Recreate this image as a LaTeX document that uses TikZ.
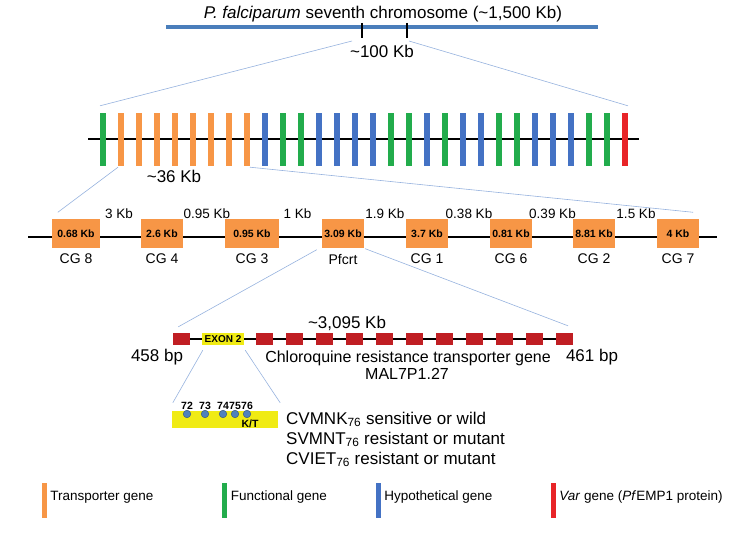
\documentclass[tikz,border=0pt]{standalone}
\usepackage{fontspec}
\setmainfont{Liberation Sans}
\usetikzlibrary{calc}
\usetikzlibrary{positioning}
\definecolor{chr}{RGB}{74,126,187}
\definecolor{tg}{RGB}{247,150,70}
\definecolor{fg}{RGB}{34,172,76}
\definecolor{hg}{RGB}{68,114,196}
\definecolor{vg}{RGB}{232,36,40}
\definecolor{exy}{RGB}{240,235,20}
\definecolor{exr}{RGB}{192,30,35}
\definecolor{zlc}{RGB}{150,178,222}
\definecolor{dotc}{RGB}{79,129,189}

\begin{document}
\begin{tikzpicture} [
    x=1pt, y=-1pt,
    big/.style={font=\fontsize{16}{19}\selectfont, inner sep=1pt},
    huge/.style={font=\fontsize{17}{20}\selectfont, inner sep=1pt},
    kb/.style={font=\fontsize{13.5}{16}\selectfont, inner sep=1pt},
    gl/.style={font=\fontsize{14}{17}\selectfont, inner sep=1pt},
    bar/.style={minimum width=5.5pt, minimum height=53pt, inner sep=0pt},
    box/.style={
        fill=tg, minimum height=29pt, inner sep=0pt,
        font=\fontsize{10.5}{12}\selectfont\bfseries
    },
    rex/.style={fill=exr, minimum width=17pt, minimum height=12pt, inner sep=0pt},
    yex/.style={
        fill=exy, minimum width=42pt, minimum height=12pt, inner sep=0pt,
        font=\fontsize{10}{12}\selectfont\bfseries
    },
    num/.style={font=\fontsize{10.5}{12}\selectfont\bfseries, inner sep=0.5pt},
    dot/.style={circle, fill=dotc, draw=dotc!70!black, line width=0.5pt,
        minimum size=7.5pt, inner sep=0pt},
    lbar/.style={minimum width=5pt, minimum height=35pt, inner sep=0pt},
    lgt/.style={font=\fontsize{13.5}{16}\selectfont, inner sep=1pt},
    axis/.style={line width=1.5pt, black},
    tick/.style={line width=1.5pt, black},
    zl/.style={draw=zlc, line width=0.6pt}
]

\pgfdeclarelayer{background}
\pgfsetlayers{background,main}

\useasboundingbox (0,0) rectangle (750,534);

% chromosome
\node [huge] (title) at (383,14) {\textit{P. falciparum} seventh chromosome (\textasciitilde1,500 Kb)};
\coordinate (c1) at (166,27);
\coordinate (c2) at (598,27);
\draw [line width=4.5pt, chr] (c1) -- (c2);
\draw [tick] (362,23) -- (362,38) coordinate (k1);
\draw [tick] (407,23) -- (407,38) coordinate (k2);
\node [huge] (s100) at (382,51) {\textasciitilde100 Kb};

% ~100 Kb stretch
\foreach \c [count=\i] in {fg,tg,tg,tg,tg,tg,tg,tg,tg,hg,fg,fg,hg,hg,hg,hg,
                           fg,fg,hg,fg,hg,hg,fg,fg,hg,hg,hg,fg,fg,vg}
    \node [bar, fill=\c] (b\i) at ({103+18*(\i-1)}, 139.5) {};
\node [huge] (s36) at (174,176) {\textasciitilde36 Kb};

\path ($(k1)+(-10,3)$) edge [zl] ($(b1.north west)+(0,-7)$);
\path ($(k2)+(2,3)$)   edge [zl] ($(b30.north east)+(0,-7)$);

% transporter genes
\foreach \n/\x/\w/\s/\l in {cg8/76/48/0.68 Kb/CG 8, cg4/162/42/2.6 Kb/CG 4,
        cg3/252/54/0.95 Kb/CG 3, pf/343/42/3.09 Kb/Pfcrt, cg1/427/42/3.7 Kb/CG 1,
        cg6/511/42/0.81 Kb/CG 6, cg2/594/42/8.81 Kb/CG 2, cg7/678/42/4 Kb/CG 7} {
    \node [box, minimum width=\w pt] (\n) at (\x,234) {\s};
    \node [gl, below=4pt of \n] (l\n) {\l};
}

\foreach \a/\b/\d in {cg8/cg4/3 Kb, cg4/cg3/0.95 Kb, cg3/pf/1 Kb, pf/cg1/1.9 Kb,
        cg1/cg6/0.38 Kb, cg6/cg2/0.39 Kb, cg2/cg7/1.5 Kb}
    \node [kb] (d\a) at ($(\a)!0.5!(\b)+(0,-20)$) {\d};

\path ($(b2.south west)+(0,1)$) edge [zl] ($(cg8.north west)+(6,-7)$);
\path ($(b9.south east)+(0,1)$) edge [zl] ($(cg7.north east)+(-6,-7)$);

% pfcrt exons
\node [rex] (e1) at (181,339) {};
\node [yex] (e2) at (223,339) {EXON 2};
\foreach \i in {3,...,13}
    \node [rex] (e\i) at ({264.3+30*(\i-3)},339) {};

\node [huge] (s3095) at (347,323) {\textasciitilde3,095 Kb};
\node [huge] (bp1) at (157,357) {458 bp};
\node [huge] (bp2) at (592,357) {461 bp};
\node [big] (crt) at (408,358) {Chloroquine resistance transporter gene};
\node [big] (mal) at (407,374) {MAL7P1.27};

\path ($(pf.south west)+(-5,1)$) edge [zl] ($(e1.north west)+(6,-6)$);
\path ($(pf.south east)+(1,0)$)  edge [zl] ($(e13.north east)+(-5,-7)$);

% exon 2 codons
\node [fill=exy, minimum width=106pt, minimum height=17pt, inner sep=0pt] (cds) at (225,419.5) {};
\foreach \x/\n in {187/72, 205/73, 223/74, 235/75, 247/76}
    \node [dot, label={[num]above:\n}] (p\n) at (\x,414) {};
\node [num] (kt) at (250,424) {K/T};

\path ($(e2.south west)+(1,5)$) edge [zl] ($(cds.north west)+(1,-8)$);
\path ($(e2.south east)+(1,5)$) edge [zl] ($(cds.north east)+(2,-8)$);

\node [huge, anchor=west] (al1) at (285,419.5) {CVMNK\textsubscript{76} sensitive or wild};
\node [huge, anchor=west] (al2) at (285,439.5) {SVMNT\textsubscript{76} resistant or mutant};
\node [huge, anchor=west] (al3) at (285,459.5) {CVIET\textsubscript{76} resistant or mutant};

% legend
\foreach \c/\x/\t in {tg/44/Transporter gene, fg/224.5/Functional gene,
        hg/378/Hypothetical gene, vg/553/{\textit{Var} gene (\textit{Pf}EMP1 protein)}} {
    \node [lbar, fill=\c] (g\c) at (\x,500.5) {};
    \node [lgt, right=2.5pt of g\c, yshift=3.5pt] (t\c) {\t};
}

\begin{pgfonlayer}{background}
\draw [line width=2pt] ($(b1)+(-15,0)$) -- ($(b30)+(14,0)$);
\draw [axis] ($(cg8)+(-48,3)$) -- ($(cg7)+(39,3)$);
\draw [line width=1.2pt] (e1) -- (e13);
\end{pgfonlayer}

\end{tikzpicture}
\end{document}
